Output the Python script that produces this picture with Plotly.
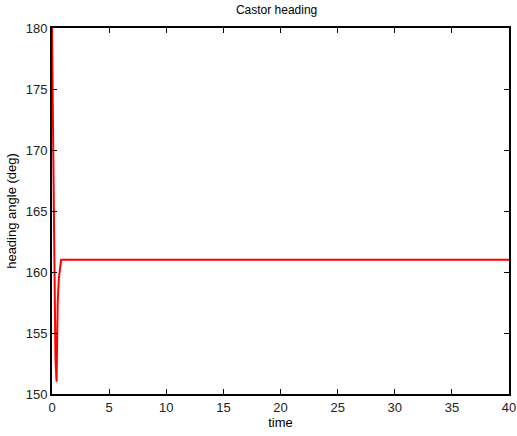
import plotly.graph_objects as go

time = [0, 0.1, 0.2, 0.3, 0.4, 0.5, 0.6, 0.7, 0.8, 0.9, 1.0, 40]
heading = [180, 171, 161, 153, 151, 157.5, 159.5, 160.5, 161, 161, 161, 161]

x_ticks = [0, 5, 10, 15, 20, 25, 30, 35, 40]
y_ticks = [150, 155, 160, 165, 170, 175, 180]

fig = go.Figure()
fig.add_trace(go.Scatter(x=time, y=heading, mode="lines",
                         line=dict(color="#ff0000", width=2), showlegend=False))

axis_common = dict(showline=True, linecolor="black", linewidth=2, mirror="allticks",
                   ticks="inside", ticklen=5, tickwidth=1, tickcolor="black",
                   showgrid=False, zeroline=False, automargin=False,
                   tickfont=dict(family="Liberation Sans, Arial", size=13, color="#222"))

fig.update_layout(
    template="none",
    width=517, height=436,
    margin=dict(l=52, r=8, t=28, b=42),
    paper_bgcolor="white", plot_bgcolor="white",
    title=dict(text="Castor heading", x=0.535, xanchor="center", y=0.977, yanchor="middle",
               font=dict(family="Liberation Sans, Arial", size=12, color="black")),
    xaxis=dict(range=[0, 40], tickvals=x_ticks, title=dict(text="time", standoff=4,
               font=dict(family="Liberation Sans, Arial", size=13, color="black")), **axis_common),
    yaxis=dict(range=[150, 180], tickvals=y_ticks, title=dict(text="heading angle (deg)", standoff=6,
               font=dict(family="Liberation Sans, Arial", size=13, color="black")), **axis_common),
)

fig.write_html("out.html")
